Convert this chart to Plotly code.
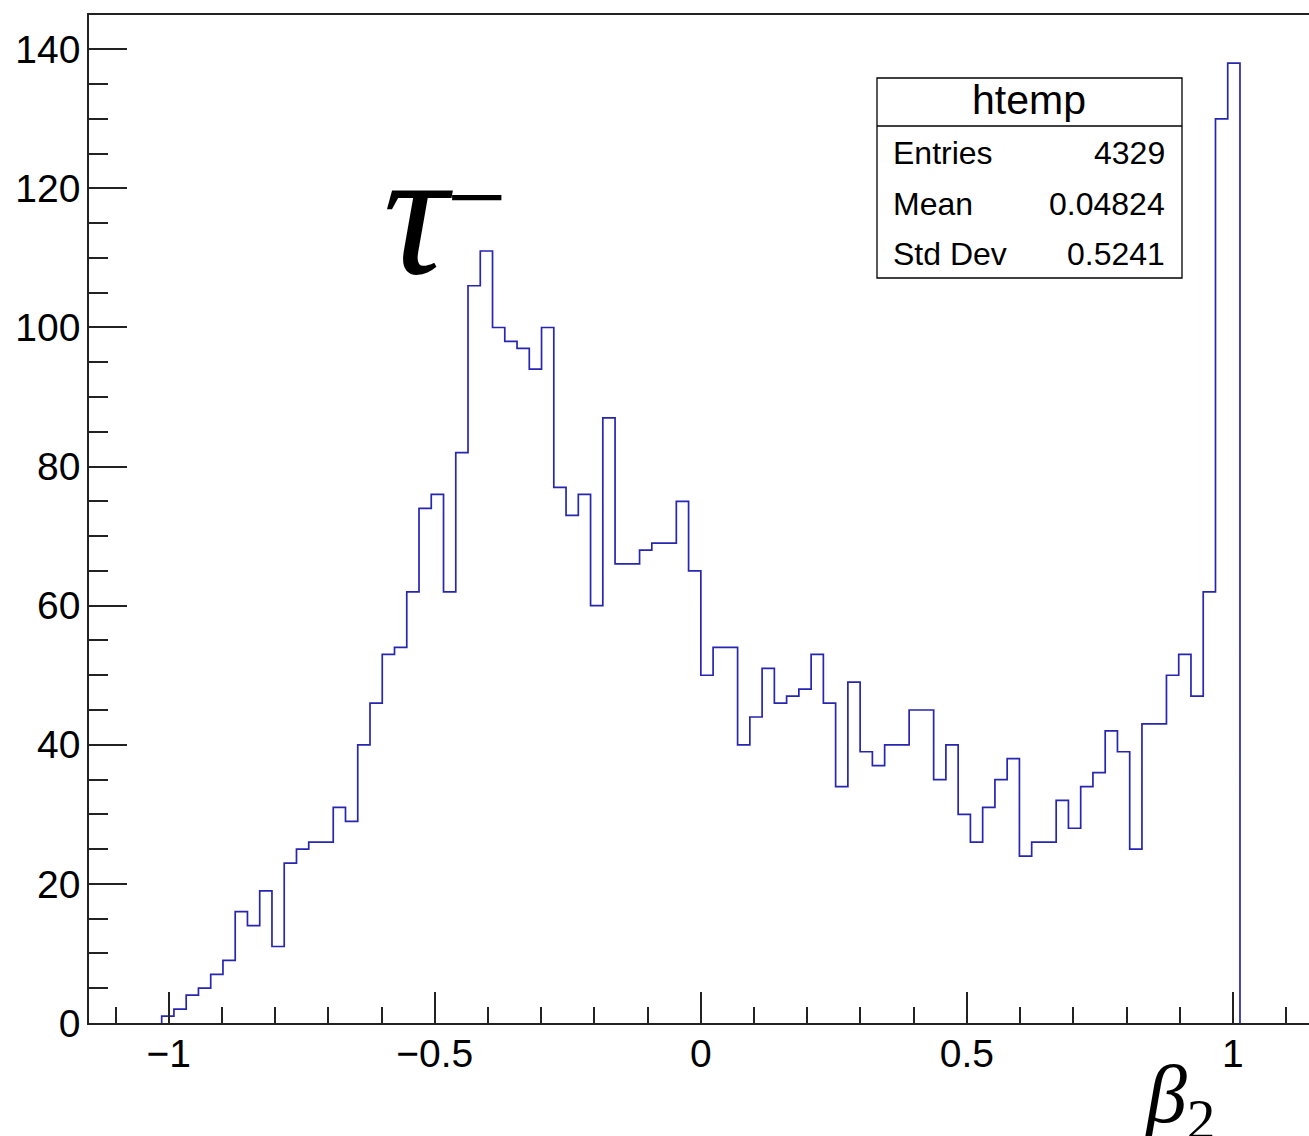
import numpy as np
import plotly.graph_objects as go

bin_first_edge = -1.0132
bin_last_edge = 1.0132
counts = [1, 2, 4, 5, 7, 9, 16, 14, 19, 11,
          23, 25, 26, 26, 31, 29,
          40, 46, 53, 54, 62, 74, 76, 62, 82, 106,
          111, 100, 98, 97, 94, 100,
          77, 73, 76, 60, 87, 66, 66, 68, 69, 69, 75, 65,
          50, 54, 54, 40, 44, 51, 46, 47, 48, 53,
          46, 34, 49, 39, 37, 40, 40, 45, 45, 35,
          40, 30, 26, 31, 35, 38, 24,
          26, 26, 32, 28, 34, 36, 42, 39, 25, 43,
          43, 50, 53, 47, 62, 130, 138]
stat_labels = ["Entries", "Mean", "Std Dev"]
stat_values = ["4329", "0.04824", "0.5241"]
hist_name = "htemp"
x_tickvals = [-1, -0.5, 0, 0.5, 1]
x_ticktext = ["\u22121", "\u22120.5", "0", "0.5", "1"]
y_tickvals = [0, 20, 40, 60, 80, 100, 120, 140]

edges = np.linspace(bin_first_edge, bin_last_edge, len(counts) + 1)
xs = [edges[0]] + list(edges[:-1]) + [edges[-1]]
ys = [0] + counts + [0]

W, H = 1309, 1136
L, R, T, B = 89, 0, 15, 113
HIST_BLUE = "#2626b0"

fig = go.Figure()
fig.add_trace(go.Scatter(x=xs, y=ys, mode="lines",
                         line=dict(shape="hv", color=HIST_BLUE, width=1.7),
                         hoverinfo="skip", showlegend=False))

axis_font = dict(family="Liberation Sans, Arial, sans-serif", size=39, color="black")
fig.update_xaxes(range=[-1.1498, 1.1429], showgrid=False, zeroline=False,
                 showline=True, linecolor="#222", linewidth=1.5, mirror=True,
                 ticks="inside", ticklen=31, tickwidth=1.5, tickcolor="#222",
                 tickvals=x_tickvals, ticktext=x_ticktext, tickfont=axis_font,
                 ticklabelstandoff=-5,
                 minor=dict(dtick=0.1, tick0=0, ticks="inside", ticklen=16,
                            tickwidth=1.5, tickcolor="#222"))
fig.update_yaxes(range=[0, 144.93], showgrid=False, zeroline=False,
                 showline=True, linecolor="#222", linewidth=1.5, mirror=False,
                 ticks="inside", ticklen=38, tickwidth=1.5, tickcolor="#222",
                 tickvals=y_tickvals, tickfont=axis_font, ticklabelstandoff=-1,
                 minor=dict(dtick=5, tick0=0, ticks="inside", ticklen=19,
                            tickwidth=1.5, tickcolor="#222"))

pw = W - L - R
ph = H - T - B
def px(xp):
    return (xp - L) / pw
def py(yp):
    return (H - B - yp) / ph

# stats box
fig.add_shape(type="rect", xref="paper", yref="paper",
              x0=px(877), x1=px(1182), y0=py(278), y1=py(78),
              line=dict(color="black", width=1.3), fillcolor="white", layer="above")
fig.add_shape(type="line", xref="paper", yref="paper",
              x0=px(877), x1=px(1182), y0=py(126), y1=py(126),
              line=dict(color="black", width=1.3), layer="above")
stat_font = dict(family="Liberation Sans, Arial, sans-serif", size=32, color="black")
fig.add_annotation(text=hist_name, xref="paper", yref="paper", x=px(1029), y=py(100),
                   xanchor="center", yanchor="middle", showarrow=False,
                   font=dict(family="Liberation Sans, Arial, sans-serif", size=41, color="black"))
row_y = [153, 204, 254]
for lab, val, yy in zip(stat_labels, stat_values, row_y):
    fig.add_annotation(text=lab, xref="paper", yref="paper", x=px(891), y=py(yy),
                       xanchor="left", yanchor="middle", showarrow=False, font=stat_font)
    fig.add_annotation(text=val, xref="paper", yref="paper", x=px(1167), y=py(yy),
                       xanchor="right", yanchor="middle", showarrow=False, font=stat_font)

# tau^- label
serif = "Liberation Serif, Times New Roman, serif"
fig.add_annotation(text="\u03c4", xref="paper", yref="paper", x=px(418), y=py(213),
                   xanchor="center", yanchor="middle", showarrow=False,
                   font=dict(family=serif, size=180, color="black", style="italic"))
fig.add_annotation(text="\u2212", xref="paper", yref="paper", x=px(477), y=py(197),
                   xanchor="center", yanchor="middle", showarrow=False,
                   font=dict(family=serif, size=106, color="black"))

# beta_2 axis title
fig.add_annotation(text="<i>\u03b2</i><sub>2</sub>", xref="paper", yref="paper",
                   x=px(1180), y=py(1100),
                   xanchor="center", yanchor="middle", showarrow=False,
                   font=dict(family=serif, size=82, color="black"))

fig.update_layout(width=W, height=H, margin=dict(l=L, r=R, t=T, b=B),
                  paper_bgcolor="white", plot_bgcolor="white", showlegend=False)

fig.write_html("out.html")
